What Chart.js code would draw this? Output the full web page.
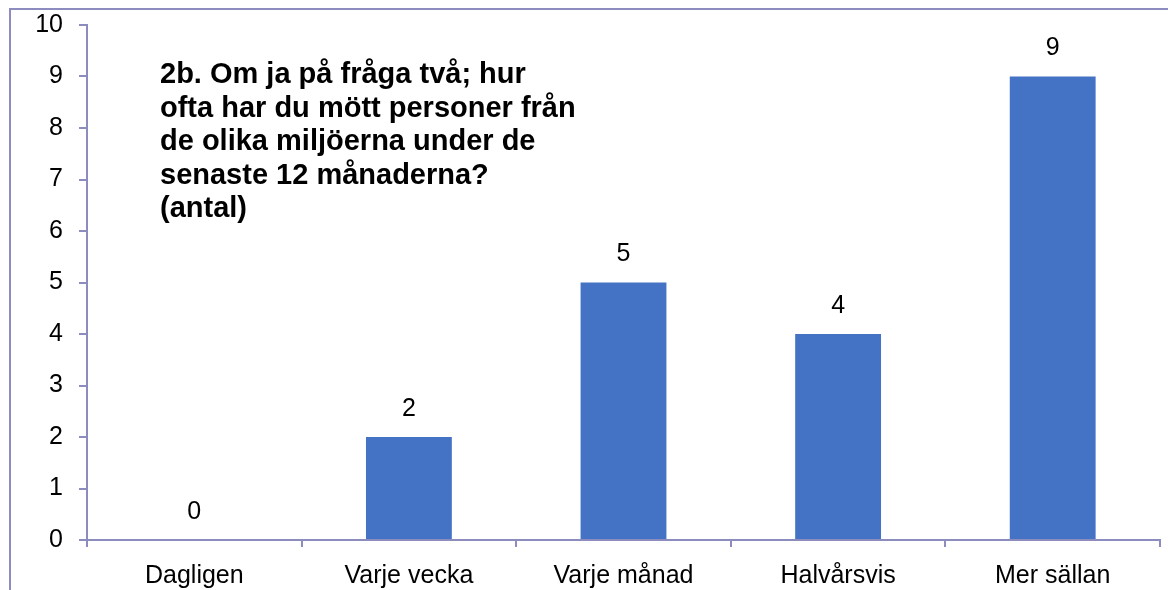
<!DOCTYPE html>
<html>
<head>
<meta charset="utf-8">
<script src="https://cdn.jsdelivr.net/npm/chart.js@4/dist/chart.umd.min.js"></script>
<style>
html,body{margin:0;padding:0;background:#fff;}
#wrap{position:relative;width:1168px;height:590px;}
</style>
</head>
<body>
<div id="wrap"><canvas id="c" width="1168" height="590"></canvas></div>
<script>
const categories = ["Dagligen", "Varje vecka", "Varje månad", "Halvårsvis", "Mer sällan"];
const values = [0, 2, 5, 4, 9];
const yTicks = [0, 1, 2, 3, 4, 5, 6, 7, 8, 9, 10];
const titleLines = ["2b. Om ja på fråga två; hur", "ofta har du mött personer från", "de olika miljöerna under de", "senaste 12 månaderna?", "(antal)"];

const axisColor = '#8c8cbf';
const FONT = '"Liberation Sans", Arial, sans-serif';

const decor = {
  id: 'decor',
  beforeDraw(chart) {
    const ctx = chart.ctx;
    ctx.save();
    ctx.fillStyle = '#fff';
    ctx.fillRect(0, 0, chart.width, chart.height);
    ctx.strokeStyle = axisColor;
    ctx.lineWidth = 2;
    ctx.beginPath();
    ctx.moveTo(10, 590);
    ctx.lineTo(10, 9);
    ctx.lineTo(1168, 9);
    ctx.stroke();
    ctx.restore();
  },
  afterDatasetsDraw(chart) {
    const ctx = chart.ctx;
    ctx.save();
    ctx.fillStyle = '#000';
    ctx.font = '25px ' + FONT;
    ctx.textAlign = 'center';
    ctx.textBaseline = 'middle';
    const meta = chart.getDatasetMeta(0);
    meta.data.forEach((bar, i) => {
      ctx.fillText(String(values[i]), bar.x, bar.y - 28);
    });
    ctx.font = 'bold 29px ' + FONT;
    ctx.textAlign = 'left';
    ctx.textBaseline = 'alphabetic';
    titleLines.forEach((t, i) => {
      ctx.fillText(t, 160, 83 + i * 33.5);
    });
    ctx.restore();
  }
};

new Chart(document.getElementById('c'), {
  type: 'bar',
  data: {
    labels: categories,
    datasets: [{
      data: values,
      backgroundColor: '#4472C4',
      borderWidth: 0,
      barPercentage: 0.4,
      categoryPercentage: 1.0
    }]
  },
  options: {
    responsive: false,
    animation: false,
    devicePixelRatio: 1,
    layout: { padding: { left: 0, right: 8, top: 25, bottom: 0 } },
    plugins: { legend: { display: false }, title: { display: false }, tooltip: { enabled: false } },
    scales: {
      x: {
        grid: { display: true, drawOnChartArea: false, drawTicks: true, tickLength: 7, color: axisColor, lineWidth: 2, offset: true },
        border: { display: true, color: axisColor, width: 2 },
        ticks: { color: '#000', font: { size: 25, family: FONT }, padding: 14, maxRotation: 0, autoSkip: false },
        afterFit(s) { s.height = 50; s.paddingLeft = 0; s.paddingRight = 0; }
      },
      y: {
        min: 0, max: 10,
        afterBuildTicks(s) { s.ticks = yTicks.map(v => ({ value: v })); },
        grid: { display: true, drawOnChartArea: false, drawTicks: true, tickLength: 8, color: axisColor, lineWidth: 2 },
        border: { display: true, color: axisColor, width: 2 },
        ticks: { color: '#000', font: { size: 25, family: FONT }, padding: 16 },
        afterFit(s) { s.width = 87; s.paddingTop = 0; s.paddingBottom = 0; }
      }
    }
  },
  plugins: [decor]
});
</script>
</body>
</html>
